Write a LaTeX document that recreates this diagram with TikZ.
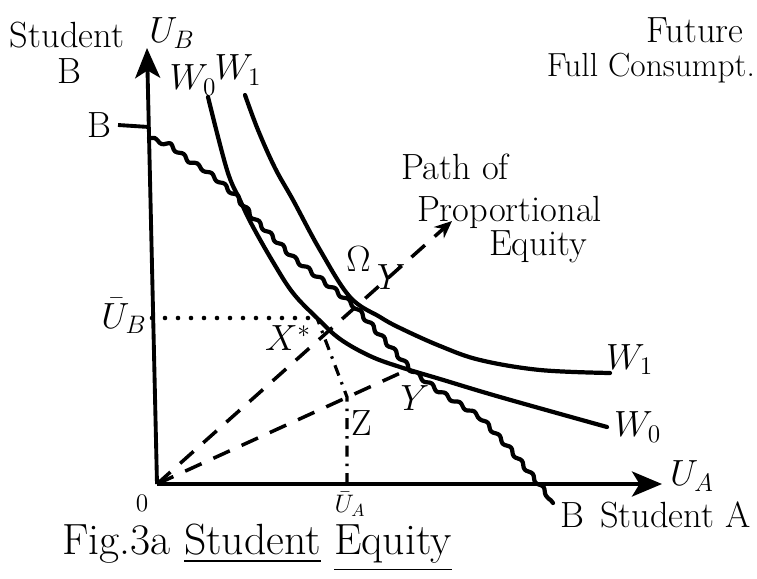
\documentclass[tikz,border=0pt]{standalone}
\usepackage{amsmath,amssymb}
\usetikzlibrary{positioning,arrows.meta,decorations.pathmorphing}

\begin{document}
\begin{tikzpicture}[
  x=0.02cm, y=-0.02cm,
  node distance=0.1cm and 0.1cm,
  axis/.style={line width=2.2pt, -{Stealth[length=0.6cm, width=0.5cm, inset=0.15cm]}},
  curve/.style={line width=2.4pt, line cap=round},
  frontier/.style={line width=2.4pt, line cap=round, line join=round, decorate,
                   decoration={snake, segment length=0.34cm, amplitude=1pt}},
  ray/.style={line width=2pt, dash pattern=on 0.36cm off 0.26cm},
  guide/.style={line width=2.6pt, line cap=round, dash pattern=on 0pt off 0.26cm},
  dashdot/.style={line width=1.8pt, dash pattern=on 0.22cm off 0.14cm on 0.05cm off 0.14cm},
  lbl/.style={inner sep=1pt, font=\huge},
  small/.style={inner sep=1pt, font=\Large},
]
  \useasboundingbox (0,0) rectangle (757,578);

  % Axes
  \coordinate (O) at (157,484);
  \coordinate (ytip) at (147,48);
  \coordinate (xtip) at (662,484);
  \draw[axis] (O) -- (ytip);
  \draw[axis] (O) -- (xtip);

  % Axis labels
  \node[lbl] (stud) at (67,35) {Student};
  \node[lbl] (ub) at (172,33) {$U_B$};
  \node[lbl] (studb) at (69,71) {B};
  \node[lbl] (ua) at (692,476) {$U_A$};
  \node[lbl] (bend) at (572,515) {B};
  \node[lbl, anchor=west] (studa) at (598,515) {Student A};
  \node[small] (zero) at (142,503) {0};
  \node[lbl] (future) at (695,30) {Future};
  \node[inner sep=1pt, font=\fontsize{19}{22}\selectfont, anchor=east] (fullc) at (757,68) {Full Consumpt.};

  % Frontier BB
  \coordinate (btick) at (149,127);
  \node[lbl] (bstart) at (99,125) {B};
  \draw[line width=2.2pt] (bstart.east) ++(5,0) -- (btick);
  \draw[frontier] (149,138) -- (167,144) -- (183,157) -- (200,167) -- (217,180)
    -- (233,194) -- (250,216) -- (293,259) -- (333,290) -- (350,304) -- (367,323)
    -- (407,368) -- (433,388) -- (480,418) -- (510,450) -- (538,484) -- (553,503);

  % Welfare curves
  \coordinate (w0end) at (607,427);
  \coordinate (w1end) at (610,373);
  \draw[curve] plot[smooth, tension=0.6] coordinates {
    (208,97) (227,170) (240,200) (252,225) (273,262) (293,293) (317,318)
    (340,339) (370,356) (400,367) (440,379) (500,397) (w0end)};
  \draw[curve] plot[smooth, tension=0.6] coordinates {
    (245,95) (258,130) (275,168) (293,200) (320,250) (350,297) (380,317)
    (400,328) (440,346) (480,360) (540,370) (w1end)};
  \node[lbl] (w0top) at (193,80) {$W_0$};
  \node[lbl] (w1top) at (238,70) {$W_1$};
  \node[lbl, anchor=south west] (w1lbl) at (604,377) {$W_1$};
  \node[lbl, right=0.1cm of w0end] (w0lbl) {$W_0$};

  % Points
  \coordinate (X) at (317,318);
  \coordinate (Z) at (347,397);
  \coordinate (Y) at (407,370);
  \coordinate (pe) at (452,221);
  \coordinate (uatick) at (347,484);
  \coordinate (ubtick) at (152,318);

  % Rays from the origin
  \draw[ray, -{Stealth[length=0.35cm, width=0.3cm]}] (O) -- (pe);
  \draw[ray] (O) -- (Y);

  % Guides
  \draw[guide] (ubtick) -- (X);
  \draw[dashdot] (uatick) -- (Z) -- (X);
  \node[lbl] (ubar) at (124,316) {$\bar{U}_B$};
  \node[small] (uabar) at (350,504) {$\bar{U}_A$};

  % Point labels
  \node[lbl] (xlbl) at (288,338) {$X^{*}$};
  \node[lbl] (zlbl) at (362,423) {Z};
  \node[lbl] (ylbl) at (415,398) {$Y$};
  \node[lbl] (omega) at (376,268) {$\Omega$\,\raisebox{-1.1ex}{$Y$}};

  % Path of proportional equity
  \node[lbl] (path) at (455,167) {Path of};
  \node[lbl, anchor=west] (prop) at (415,212) {Proportional};
  \node[lbl, anchor=west] (equity) at (487,247) {Equity};

  % Caption
  \node[lbl, font=\Huge] (caption) at (257,548) {Fig.3a \underline{Student} \underline{Equity}};
\end{tikzpicture}
\end{document}
